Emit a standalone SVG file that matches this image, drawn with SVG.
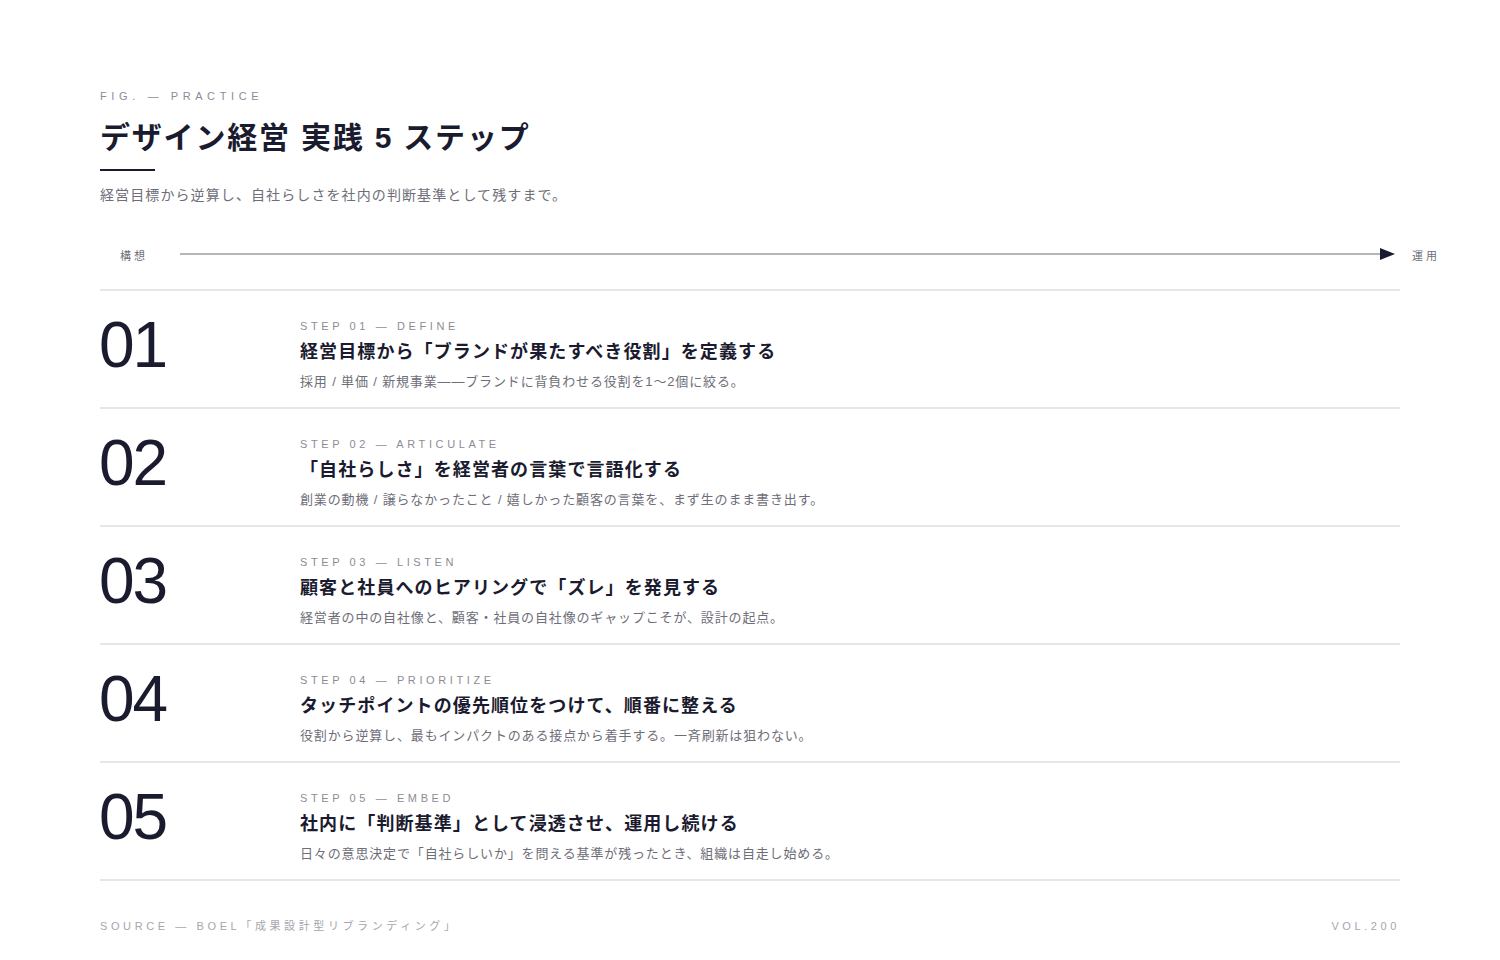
<svg xmlns="http://www.w3.org/2000/svg" width="1500" height="960" viewBox="0 0 1500 960">
<defs>
<style>
text { font-family: "Liberation Sans", "Noto Sans CJK JP", sans-serif; }
.eyebrow { font-size: 11px; letter-spacing: 4.6px; fill: #8c8c96; }
.title { font-size: 30px; font-weight: 700; letter-spacing: 1.8px; fill: #1b1b2f; }
.sub { font-size: 14px; letter-spacing: 1.1px; fill: #6e6e78; }
.tl { font-size: 11px; letter-spacing: 3px; fill: #6e6e78; }
.sep { stroke: #e6e6e8; stroke-width: 2; }
.num { font-size: 64px; font-weight: 400; letter-spacing: -2px; fill: #1b1b2f; }
.step { font-size: 11px; letter-spacing: 3.6px; fill: #8c8c96; }
.head { font-size: 18px; font-weight: 700; letter-spacing: 1.1px; fill: #1b1b2f; }
.desc { font-size: 13px; letter-spacing: 0.85px; fill: #6e6e78; }
.foot { font-size: 11px; letter-spacing: 3.6px; fill: #a6a6ae; }
</style>
</defs>
<rect width="1500" height="960" fill="#ffffff"/>

<g id="header">
<text class="eyebrow" x="100" y="100">FIG. — PRACTICE</text>
<text class="title" x="100" y="148">デザイン経営 実践 5 ステップ</text>
<line x1="100" y1="170" x2="155" y2="170" stroke="#1b1b2f" stroke-width="2"/>
<text class="sub" x="100" y="200">経営目標から逆算し、自社らしさを社内の判断基準として残すまで。</text>
</g>

<g id="connectors">
<line x1="180" y1="254" x2="1382" y2="254" stroke="#9c9ca6" stroke-width="1.5"/>
<polygon points="1380,248 1395,254 1380,260" fill="#1b1b2f"/>
</g>

<g id="timeline-labels">
<text class="tl" x="120" y="260">構想</text>
<text class="tl" x="1412" y="260">運用</text>
</g>

<g id="separators">
<line class="sep" x1="100" y1="290" x2="1400" y2="290"/>
<line class="sep" x1="100" y1="408" x2="1400" y2="408"/>
<line class="sep" x1="100" y1="526" x2="1400" y2="526"/>
<line class="sep" x1="100" y1="644" x2="1400" y2="644"/>
<line class="sep" x1="100" y1="762" x2="1400" y2="762"/>
<line class="sep" x1="100" y1="880" x2="1400" y2="880"/>
</g>

<g id="step01">
<text class="num" x="99" y="367">01</text>
<text class="step" x="300" y="330">STEP 01 — DEFINE</text>
<text class="head" x="300" y="358">経営目標から「ブランドが果たすべき役割」を定義する</text>
<text class="desc" x="300" y="386">採用 / 単価 / 新規事業——ブランドに背負わせる役割を1〜2個に絞る。</text>
</g>

<g id="step02">
<text class="num" x="99" y="485">02</text>
<text class="step" x="300" y="448">STEP 02 — ARTICULATE</text>
<text class="head" x="300" y="476">「自社らしさ」を経営者の言葉で言語化する</text>
<text class="desc" x="300" y="504">創業の動機 / 譲らなかったこと / 嬉しかった顧客の言葉を、まず生のまま書き出す。</text>
</g>

<g id="step03">
<text class="num" x="99" y="603">03</text>
<text class="step" x="300" y="566">STEP 03 — LISTEN</text>
<text class="head" x="300" y="594">顧客と社員へのヒアリングで「ズレ」を発見する</text>
<text class="desc" x="300" y="622">経営者の中の自社像と、顧客・社員の自社像のギャップこそが、設計の起点。</text>
</g>

<g id="step04">
<text class="num" x="99" y="721">04</text>
<text class="step" x="300" y="684">STEP 04 — PRIORITIZE</text>
<text class="head" x="300" y="712">タッチポイントの優先順位をつけて、順番に整える</text>
<text class="desc" x="300" y="740">役割から逆算し、最もインパクトのある接点から着手する。一斉刷新は狙わない。</text>
</g>

<g id="step05">
<text class="num" x="99" y="839">05</text>
<text class="step" x="300" y="802">STEP 05 — EMBED</text>
<text class="head" x="300" y="830">社内に「判断基準」として浸透させ、運用し続ける</text>
<text class="desc" x="300" y="858">日々の意思決定で「自社らしいか」を問える基準が残ったとき、組織は自走し始める。</text>
</g>

<g id="footer">
<text class="foot" x="100" y="930">SOURCE — BOEL「成果設計型リブランディング」</text>
<text class="foot" x="1400" y="930" text-anchor="end">VOL.200</text>
</g>
</svg>
